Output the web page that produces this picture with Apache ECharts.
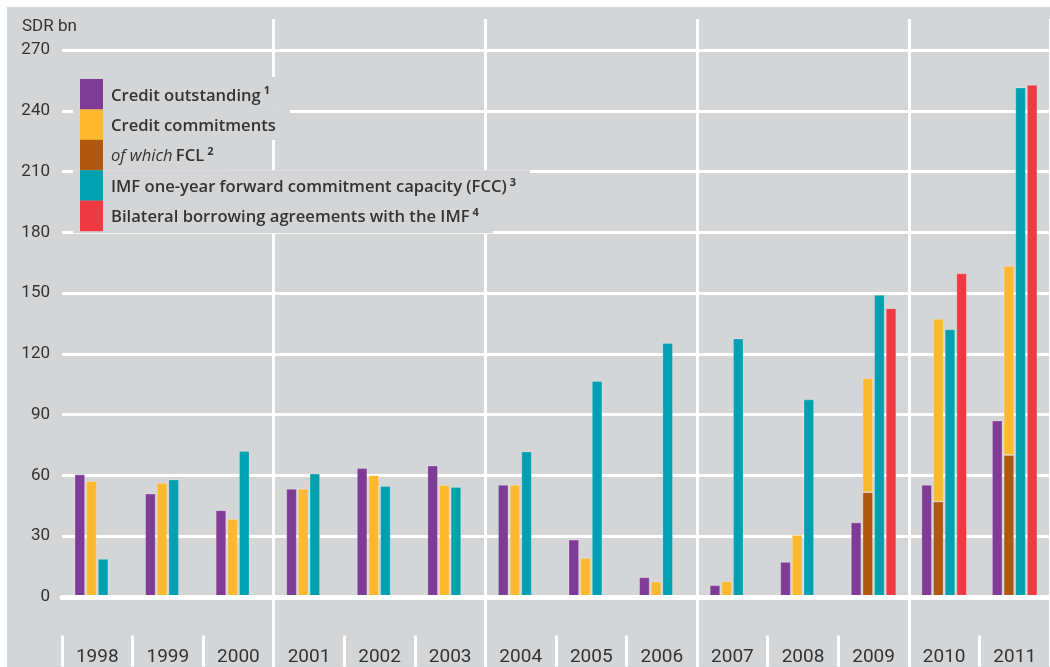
<!DOCTYPE html>
<html>
<head>
<meta charset="utf-8">
<script src="https://cdn.jsdelivr.net/npm/echarts@6/dist/echarts.min.js"></script>
<style>
  html, body { margin: 0; padding: 0; background: #ffffff; }
  #bg { position: absolute; left: 7px; top: 7px; width: 1043px; height: 660px; background: #d4d5d7; }
  #chart { position: absolute; left: 0; top: 0; width: 1050px; height: 667px; }
</style>
</head>
<body>
<div id="bg"></div>
<div id="chart"></div>
<script>
// ---- data (SDR bn) ----
var years = ['1998','1999','2000','2001','2002','2003','2004','2005','2006','2007','2008','2009','2010','2011'];
var creditOutstanding = [60.5, 51.0, 42.8, 53.4, 63.6, 64.9, 55.3, 28.3, 9.7, 5.8, 17.3, 36.8, 55.3, 87.1];
var creditCommitments = [57.2, 56.3, 38.5, 53.4, 60.1, 55.2, 55.3, 19.3, 7.6, 7.7, 30.6, 108.1, 137.3, 163.4];
var ofWhichFCL = [null, null, null, null, null, null, null, null, null, null, null, 51.7, 47.1, 70.1];
var fcc = [18.8, 58.0, 72.0, 60.9, 54.7, 54.2, 71.8, 106.6, 125.3, 127.6, 97.5, 149.1, 132.1, 251.5];
var bilateral = [null, null, null, null, null, null, null, null, null, null, null, 142.5, 159.7, 252.8];
var yTicks = [0, 30, 60, 90, 120, 150, 180, 210, 240, 270];

var names = [
  'Credit outstanding',
  'Credit commitments',
  'of which FCL',
  'IMF one-year forward commitment capacity (FCC)',
  'Bilateral borrowing agreements with the IMF'
];
var colors = ['#7e3c96', '#fdb92e', '#b0580f', '#00a0b1', '#ef3a43'];
var legendLabels = [
  '{b|Credit outstanding}{sup|1}',
  '{b|Credit commitments}',
  '{i|of which} {b2|FCL}{sup|2}',
  '{b|IMF one-year forward commitment capacity (FCC)}{sup|3}',
  '{b|Bilateral borrowing agreements with the IMF}{sup|4}'
];

// remainder of commitments above the FCL part (stacked on top of FCL)
var commitmentsAboveFCL = creditCommitments.map(function (v, i) {
  return ofWhichFCL[i] == null ? v : +(v - ofWhichFCL[i]).toFixed(1);
});

var txt = '#333333';
var fontL = '"Open Sans", "Noto Sans", sans-serif';
var fontN = 'Roboto, "Noto Sans", sans-serif';

var rich = {
  b: { fontFamily: fontL, fontSize: 16.6, fontWeight: 600, color: txt, padding: [3, 0, 0, 3] },
  b2: { fontFamily: fontL, fontSize: 16.6, fontWeight: 600, color: txt, padding: [3, 0, 0, 0] },
  i: { fontFamily: fontL, fontSize: 16.6, fontStyle: 'italic', fontWeight: 400, color: txt, padding: [3, 0, 0, 3] },
  sup: { fontFamily: fontL, fontSize: 11, fontWeight: 700, color: txt, padding: [0, 0, 6, 3] }
};

var legends = names.map(function (n, i) {
  return {
    show: true,
    left: 73,
    top: i === 0 ? 77 : 79 + 30.4 * i,
    orient: 'vertical',
    backgroundColor: '#d4d5d7',
    padding: [i === 0 ? 2 : 0, 14, i === 4 ? 2 : 0, 7],
    itemWidth: 23,
    itemHeight: 30.6,
    icon: 'rect',
    selectedMode: false,
    data: [{ name: n, itemStyle: { color: colors[i], borderWidth: 0 } }],
    formatter: function () { return legendLabels[i]; },
    textStyle: { rich: rich }
  };
});

var barBase = {
  type: 'bar',
  barWidth: 10.4,
  barGap: '12%',
  xAxisIndex: 0,
  yAxisIndex: 0,
  itemStyle: { borderColor: 'rgba(255,255,255,0.3)', borderWidth: 0.8 }
};
function bar(name, data, color, extra) {
  var s = Object.assign({}, barBase, { name: name, data: data });
  s.itemStyle = Object.assign({}, barBase.itemStyle, { color: color });
  return Object.assign(s, extra || {});
}

var chart = echarts.init(document.getElementById('chart'), null, { renderer: 'canvas' });
chart.setOption({
  backgroundColor: 'transparent',
  animation: false,
  title: {
    text: 'SDR bn', left: 22, top: 18, padding: 0,
    textStyle: { fontFamily: fontN, fontSize: 17, fontWeight: 'normal', color: txt }
  },
  legend: legends,
  grid: [
    { left: 62, right: 0, top: 50, bottom: 70 },
    { left: 62, right: 0, top: 19, bottom: 0 }
  ],
  xAxis: [
    {
      gridIndex: 0, type: 'category', data: years, boundaryGap: true, z: 5,
      axisLine: { show: true, lineStyle: { color: '#ffffff', width: 5 } },
      axisTick: { show: false }, axisLabel: { show: false }, splitLine: { show: false }
    },
    {
      gridIndex: 1, type: 'category', data: years, boundaryGap: true, position: 'bottom',
      axisLine: { show: false },
      axisTick: { show: true, interval: 0, inside: true, length: 31, lineStyle: { color: '#ffffff', width: 3 } },
      axisLabel: { show: true, interval: 0, inside: true, margin: 9, verticalAlign: 'middle',
                   color: txt, fontFamily: fontN, fontSize: 19 },
      splitLine: { show: true, interval: function (i) { return i > 0 && i % 3 === 0; },
                   lineStyle: { color: '#ffffff', width: 3 } }
    }
  ],
  yAxis: [
    {
      gridIndex: 0, type: 'value', min: yTicks[0], max: yTicks[yTicks.length - 1], interval: 30,
      axisLine: { show: false }, axisTick: { show: false },
      axisLabel: { color: txt, fontFamily: fontN, fontSize: 17, margin: 12, padding: [2, 0, 0, 0] },
      splitLine: { show: true, lineStyle: { color: '#ffffff', width: 3 } }
    },
    { gridIndex: 1, type: 'value', show: false, splitLine: { show: false } }
  ],
  series: [
    bar(names[0], creditOutstanding, colors[0]),
    bar(names[2], ofWhichFCL, colors[2], { stack: 'commit' }),
    bar(names[1], commitmentsAboveFCL, colors[1], { stack: 'commit' }),
    bar(names[3], fcc, colors[3]),
    bar(names[4], bilateral, colors[4])
  ]
});
</script>
</body>
</html>
